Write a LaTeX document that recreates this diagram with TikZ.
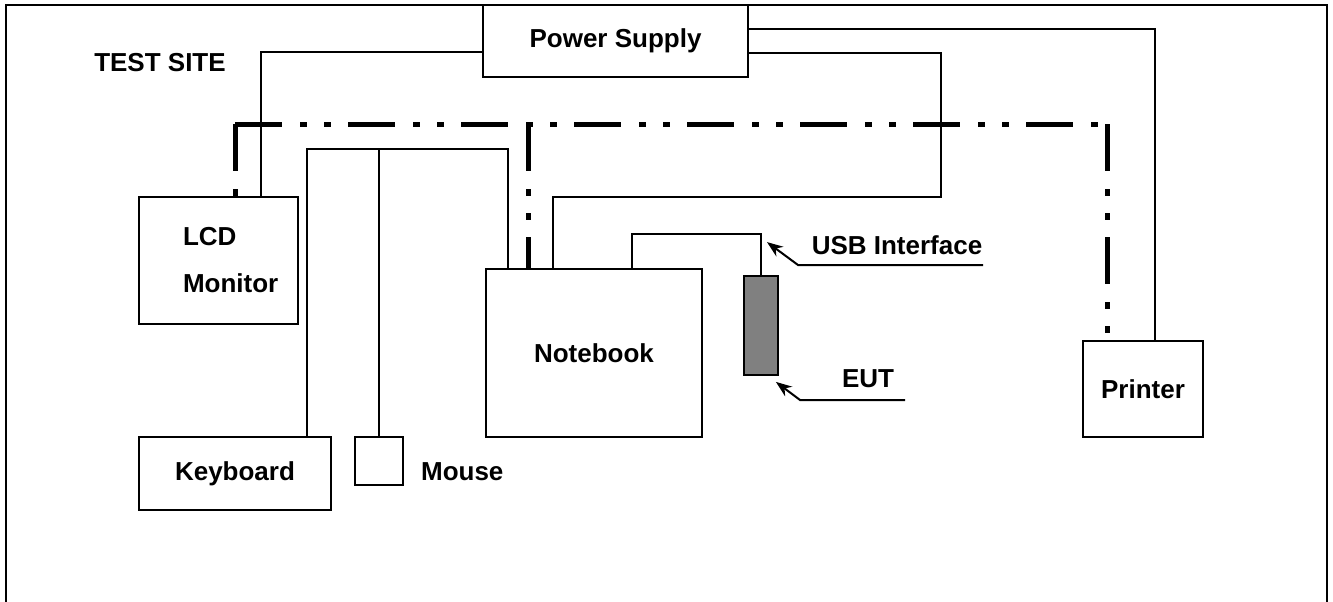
\documentclass[tikz,border=0pt]{standalone}
\usepackage{fontspec}
\setmainfont{Liberation Sans}
\usetikzlibrary{arrows.meta,positioning}

\begin{document}
\begin{tikzpicture}[
  x=1pt, y=-1pt,
  box/.style={draw,line width=1.8pt,inner sep=0pt,font=\fontsize{26}{47}\selectfont\bfseries},
  txt/.style={font=\fontsize{26}{30}\selectfont\bfseries,inner sep=0pt},
  wire/.style={line width=1.5pt},
  gnd/.style={line width=5pt,dash pattern=on 47pt off 18pt on 7pt off 17pt on 7pt off 17pt},
  pointer/.style={-{Stealth[length=16pt,width=12pt]},line width=2pt},
  frame/.style={line width=2pt}
]
\useasboundingbox (0,0) rectangle (1333,602);

% Site frame
\draw[frame] (6,602) |- (1327,5) -- (1327,602);
\node[txt] (site) at (160,63) {TEST SITE};

% Equipment
\node[box, minimum width=265pt, minimum height=72pt] (ps) at (615.5,41) {Power Supply};
\node[box, minimum width=159pt, minimum height=127pt, inner xsep=44pt, text width=71pt, align=left] (lcd) at (218.5,260.5) {LCD\\Monitor};
\node[box, minimum width=216pt, minimum height=168pt] (nb) at (594,353) {Notebook};
\node[box, minimum width=192pt, minimum height=73pt] (kbd) at (235,473.5) {Keyboard};
\node[box, minimum width=48pt, minimum height=48pt] (mouse) at (379,461) {};
\node[txt, right=17pt of mouse, yshift=-11pt] (mouselbl) {Mouse};
\node[box, minimum width=120pt, minimum height=96pt] (prn) at (1143,389) {Printer};
\node[box, fill=black!50, minimum width=34pt, minimum height=99pt] (eut) at (761,325.5) {};

% Labels
\node[txt] (usblbl) at (897,245) {USB Interface};
\node[txt] (eutlbl) at (868,379) {EUT};
\coordinate (usbtail) at (983,265);
\coordinate (euttail) at (905,400);

% Power cables
\draw[wire] ([yshift=-11pt]ps.west) -| ([xshift=42.5pt]lcd.north);
\draw[wire] ([yshift=12pt]ps.east) -| ([xshift=12pt]prn.north);
\draw[wire] ([yshift=-12pt]ps.east) -| (941,197) -| ([xshift=-41pt]nb.north);

% Keyboard and mouse cables
\coordinate (hub) at (508,149);
\draw[wire] ([xshift=72pt]kbd.north) |- (hub) -- (hub |- nb.north);
\draw[wire] (mouse.north) -- (mouse.north |- hub);

% USB cable
\draw[wire] ([xshift=38pt]nb.north) -- ++(0,-34) -| (eut.north);

% Ground
\coordinate (busL) at (235,124);
\coordinate (busM) at (528,124);
\coordinate (busR) at (1107,124);
\draw[gnd] (busL) -- (busR);
\draw[gnd] (busL) -- (busL |- lcd.north);
\draw[gnd] (busM) -- (busM |- nb.north);
\draw[gnd] (busR) -- (busR |- prn.north);

% Pointers
\draw[pointer] (usbtail) -- (798,265) -- ([xshift=6pt,yshift=33pt]eut.north);
\draw[pointer] (euttail) -- (800,400) -- ([xshift=-3pt,yshift=-6pt]eut.south east);

\end{tikzpicture}
\end{document}
